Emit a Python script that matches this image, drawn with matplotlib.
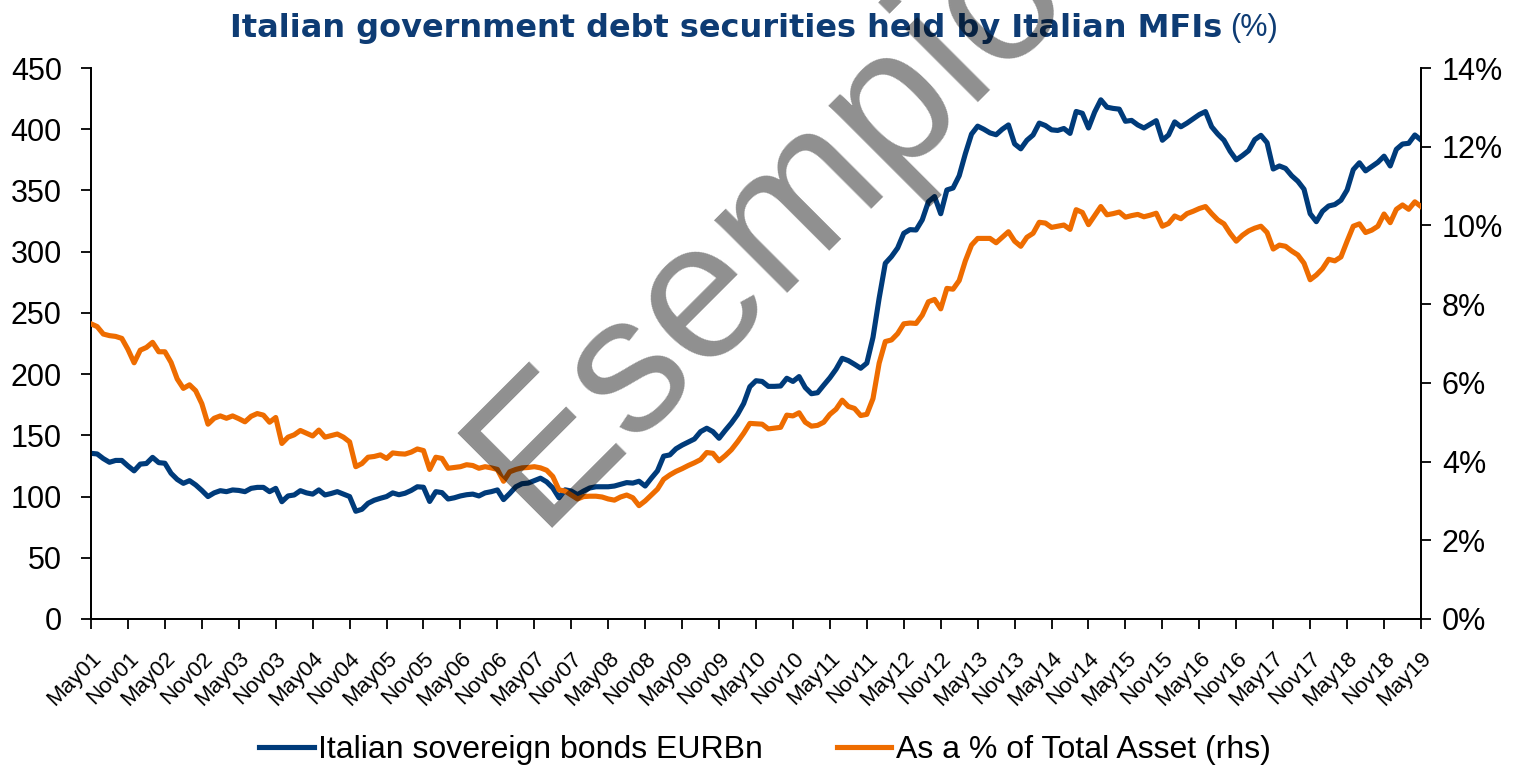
import numpy as np
import pandas as pd
import matplotlib
matplotlib.use("Agg")
import matplotlib.pyplot as plt

plt.rcParams['font.family'] = ['Liberation Sans', 'DejaVu Sans']

# monthly data, May 2001 - May 2019
dates = pd.date_range('2001-05-01', periods=217, freq='MS')

bonds_eurbn = [
    135.3, 134.8, 131, 128, 129.5, 129.5, 125, 121, 126.5, 127, 132, 127.7, 127.2, 119, 114, 110.8,
    113, 109.5, 105, 100, 103, 104.8, 104, 105.4, 105, 104, 106.7, 107.5, 107.5, 104, 106.7, 95.8,
    100.5, 101.3, 104.8, 103, 102, 105.4, 101.3, 102.5, 104, 102, 100, 88, 89.6, 94.5, 97, 98.6,
    100, 103, 101.5, 102.7, 105, 108, 107.6, 96, 104, 103.2, 98, 99, 100.5, 101.5, 102, 100.5,
    103, 104, 105.4, 97.5, 102.5, 108, 110.5, 111, 113, 115, 112, 107, 99, 105.5, 104.5, 101.5,
    104.5, 107, 108, 108, 108, 108.6, 110, 111.4, 111, 112.5, 108.6, 115, 121, 133, 134, 139,
    142, 144.5, 147, 153, 155.8, 153, 147.6, 154, 160, 167, 176, 189.7, 194.6, 194, 190, 190,
    190.3, 196.6, 194, 198, 189, 184, 184.8, 191, 197, 204, 212.9, 211, 208, 204.8, 209, 230,
    262, 290.5, 296, 303, 315, 318, 317.7, 326, 340.8, 345, 331, 350.4, 352, 362, 380, 396,
    402.5, 400, 397, 395.5, 400, 403.5, 388, 384, 391, 395.3, 405, 403, 399.5, 399, 400.6, 396.6,
    414.5, 413, 401, 414, 424, 418, 417, 416.4, 406.5, 407.2, 403.5, 401, 404, 407, 391, 395.3,
    406, 402, 405, 408.5, 412, 414.4, 402, 396, 391, 382, 375, 378.5, 382.5, 391.5, 395, 389,
    367.5, 370, 368, 362, 357.5, 351, 331, 324.5, 333, 337.3, 338.5, 342, 350.4, 367, 372.6, 366,
    369.5, 373, 378, 370, 383.6, 387.9, 388.5, 395.3, 391.2,
]

pct_total_asset = [
    7.5, 7.43, 7.24, 7.2, 7.18, 7.13, 6.85, 6.51, 6.83, 6.9, 7.03, 6.79, 6.79, 6.52, 6.1, 5.86,
    5.95, 5.8, 5.47, 4.95, 5.1, 5.16, 5.1, 5.16, 5.09, 5.01, 5.15, 5.22, 5.18, 5.0, 5.12, 4.46,
    4.62, 4.68, 4.79, 4.72, 4.65, 4.8, 4.62, 4.66, 4.7, 4.62, 4.5, 3.87, 3.95, 4.11, 4.13, 4.17,
    4.08, 4.22, 4.2, 4.19, 4.24, 4.32, 4.28, 3.8, 4.11, 4.08, 3.83, 3.85, 3.87, 3.92, 3.9, 3.83,
    3.87, 3.84, 3.8, 3.5, 3.74, 3.8, 3.84, 3.85, 3.87, 3.84, 3.78, 3.62, 3.28, 3.25, 3.15, 3.05,
    3.11, 3.12, 3.12, 3.1, 3.05, 3.02, 3.1, 3.15, 3.08, 2.88, 3.0, 3.15, 3.3, 3.55, 3.66, 3.75,
    3.82, 3.9, 3.97, 4.05, 4.23, 4.21, 4.02, 4.15, 4.3, 4.5, 4.72, 4.97, 4.96, 4.95, 4.83, 4.85,
    4.87, 5.18, 5.16, 5.24, 5.0, 4.9, 4.92, 5.0, 5.2, 5.33, 5.56, 5.4, 5.35, 5.17, 5.2, 5.6,
    6.5, 7.05, 7.09, 7.25, 7.5, 7.52, 7.51, 7.72, 8.06, 8.12, 7.88, 8.4, 8.38, 8.6, 9.1, 9.5,
    9.67, 9.67, 9.67, 9.56, 9.7, 9.84, 9.6, 9.47, 9.7, 9.8, 10.08, 10.06, 9.95, 9.98, 10.01, 9.9,
    10.4, 10.33, 10.02, 10.25, 10.48, 10.27, 10.3, 10.34, 10.21, 10.25, 10.28, 10.22, 10.26, 10.31, 9.98, 10.05,
    10.24, 10.17, 10.3, 10.36, 10.43, 10.48, 10.3, 10.14, 10.04, 9.8, 9.6, 9.75, 9.86, 9.93, 9.98, 9.82,
    9.4, 9.5, 9.47, 9.35, 9.25, 9.04, 8.62, 8.74, 8.9, 9.14, 9.1, 9.2, 9.6, 9.98, 10.04, 9.82,
    9.88, 9.98, 10.29, 10.07, 10.41, 10.52, 10.41, 10.6, 10.48,
]

left_ticks = [0, 50, 100, 150, 200, 250, 300, 350, 400, 450]
right_ticks = [0, 2, 4, 6, 8, 10, 12, 14]

BLUE = '#003B7A'
ORANGE = '#EE6C00'
TITLE = '#0E3C74'

x = np.arange(len(dates))
tick_pos = x[::6]
tick_lab = [d.strftime('%b%y') for d in dates[::6]]

fig = plt.figure(figsize=(15.22, 7.69), dpi=100)
ax = fig.add_axes([91/1522, 1-619/769, (1421-91)/1522, (619-68)/769])
ax2 = ax.twinx()

l1, = ax.plot(x, bonds_eurbn, color=BLUE, lw=3.7, label='Italian sovereign bonds EURBn', zorder=3)
l2, = ax2.plot(x, pct_total_asset, color=ORANGE, lw=3.7, label='As a % of Total Asset (rhs)', zorder=3)

ax.set_xlim(0, 216)
ax.set_ylim(0, 450)
ax2.set_ylim(0, 14)
ax.set_yticks(left_ticks)
ax2.set_yticks(right_ticks)
ax2.set_yticklabels([f'{v}%' for v in right_ticks])
ax.set_xticks(tick_pos)
ax.set_xticklabels(tick_lab, rotation=45, ha='right', rotation_mode='anchor', fontsize=16)

for a in (ax, ax2):
    a.spines['top'].set_visible(False)
    for s in ('left', 'right', 'bottom'):
        a.spines[s].set_linewidth(1.3)
ax.tick_params(axis='y', labelsize=22, length=7, width=1.3, pad=14)
ax2.tick_params(axis='y', labelsize=22, length=7, width=1.3, pad=8)
ax.tick_params(axis='x', length=7, width=1.3, pad=14)

# title: bold part + regular "(%)"
fig.text(1222/1522, 1-28/769, 'Italian government debt securities held by Italian MFIs',
         ha='right', va='center', fontsize=23, fontweight='bold', color=TITLE,
         family=['DejaVu Sans'])
fig.text(1230/1522, 1-28/769, '(%)', ha='left', va='center', fontsize=22,
         color=TITLE, family=['Liberation Sans'])

fig.legend(handles=[l1, l2], loc='center', bbox_to_anchor=(765/1522, 1-750/769),
           ncol=2, frameon=False, fontsize=23, handlelength=1.7, handletextpad=0.15,
           columnspacing=2.3, borderaxespad=0)

# watermark, anchored at the start of its baseline
fig.text(537/1522, 1-528/769, 'Esempio', rotation=45, rotation_mode='anchor',
         ha='left', va='baseline', fontsize=140, color='black', alpha=0.44, zorder=10)

fig.savefig('out.png', dpi=100)
